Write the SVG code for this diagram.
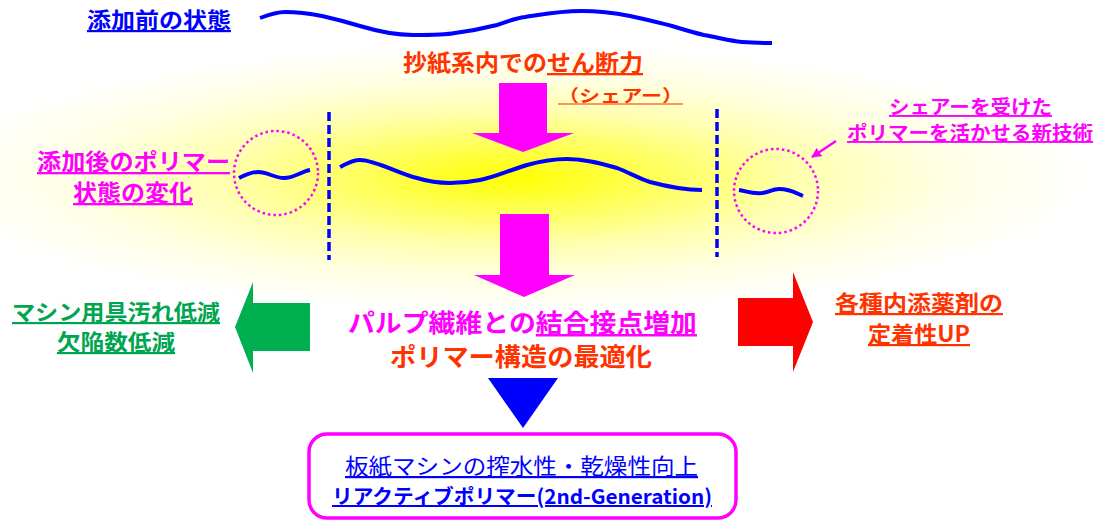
<svg xmlns="http://www.w3.org/2000/svg" width="1101" height="522" viewBox="0 0 1101 522">
<defs>
<radialGradient id="glow" cx="0.5" cy="0.5" r="0.5">
<stop offset="0" stop-color="#FFFF00"/>
<stop offset="0.25" stop-color="#FFFF5A"/>
<stop offset="0.5" stop-color="#FFFFB0"/>
<stop offset="0.75" stop-color="#FFFFE4"/>
<stop offset="1" stop-color="#FFFFFF"/>
</radialGradient>
<marker id="mh" viewBox="0 0 10 10" refX="9" refY="5" markerWidth="4" markerHeight="4" orient="auto" markerUnits="strokeWidth">
<path d="M0,0 L10,5 L0,10 z" fill="#FF00FF"/>
</marker>
<style>
text{font-family:"Noto Sans CJK JP","Noto Sans",sans-serif;font-weight:bold;}
.u{text-decoration:underline;}
.blue{fill:#0000FF;}
.org{fill:#FF3300;}
.mag{fill:#FF00FF;}
.grn{fill:#00A550;}
.poly{fill:none;stroke:#0000FF;stroke-width:4;stroke-linecap:butt;}
.dash{stroke:#0000FF;stroke-width:3.5;stroke-dasharray:9 4;}
.dot{fill:none;stroke:#FF00FF;stroke-width:2.5;stroke-dasharray:2.5 3;}
</style>
</defs>
<rect width="1101" height="522" fill="#FFFFFF"/>
<ellipse cx="510" cy="178" rx="580" ry="135" fill="url(#glow)"/>

<g id="before">
<text x="87" y="28" font-size="22" class="blue u" textLength="144" lengthAdjust="spacingAndGlyphs">添加前の状態</text>
<path class="poly" d="M260,18 C268,15 276,12 285,12 C300,12 312,14 322,16 C340,20 350,23 360,26 C380,32 395,35 413,35 C430,35 445,35 455,33 C470,31 485,28 497,25 C510,21 515,18 525,17 C545,14 560,11 581,11 C600,11 615,13 630,16 C645,19 660,23 672,26 C685,30 695,33 704,35 C720,38 730,41 742,42 C755,43 765,43 772,43"/>
</g>

<g id="shear">
<text x="403" y="71" font-size="23" class="org" textLength="240" lengthAdjust="spacingAndGlyphs">抄紙系内での<tspan class="u">せん断力</tspan></text>
<text x="558" y="102" font-size="17" class="org" textLength="125" lengthAdjust="spacingAndGlyphs">（シェアー）</text>
<line x1="558" y1="104" x2="683" y2="104" stroke="#FF7040" stroke-width="1.5"/>
</g>

<g id="connectors">
<polygon points="499,83 547,83 547,133 574,133 523,152 472,133 499,133" fill="#FF00FF"/>
<polygon points="500,214 549,214 549,275 575,275 524,297 474,275 500,275" fill="#FF00FF"/>
<polygon points="310,303 310,351 253,351 253,373 235,327 253,282 253,303" fill="#00B050"/>
<polygon points="738,298 793,298 793,272 813,322 793,372 793,346 738,346" fill="#FF0000"/>
<polygon points="488,378 558,378 523,428" fill="#0000FF"/>
<line x1="836" y1="141" x2="812" y2="157" stroke="#FF00FF" stroke-width="2.5" marker-end="url(#mh)"/>
<line class="dash" x1="329" y1="112" x2="329" y2="260"/>
<line class="dash" x1="717" y1="109" x2="717" y2="257"/>
</g>

<g id="polymer">
<path class="poly" d="M340,167 C348,163 352,160 360,160 C375,160 400,174 417,178 C430,182 440,183 450,183 C465,183 470,182 480,180 C495,177 510,170 527,165 C545,160 555,159 567,159 C585,159 600,163 617,168 C630,173 640,179 650,182 C665,186 685,190 702,190"/>
</g>

<g id="after-left">
<circle class="dot" cx="276" cy="173" r="42"/>
<path class="poly" stroke-width="3.5" d="M239,178 C247,174 252,172 258,172 C268,172 274,178 284,178 C294,178 300,172 310,170"/>
<text x="37" y="170" font-size="23" class="mag u" textLength="193" lengthAdjust="spacingAndGlyphs">添加後のポリマー</text>
<text x="73" y="201" font-size="23" class="mag u" textLength="120" lengthAdjust="spacingAndGlyphs">状態の変化</text>
</g>

<g id="after-right">
<circle class="dot" cx="776" cy="191" r="42"/>
<path class="poly" stroke-width="3.5" d="M739,190 C746,191 752,194 762,193 C770,192 772,189 779,189 C790,189 796,193 803,196"/>
<text x="889" y="114" font-size="19" class="mag u" textLength="163" lengthAdjust="spacingAndGlyphs">シェアーを受けた</text>
<text x="847" y="140" font-size="19" class="mag u" textLength="246" lengthAdjust="spacingAndGlyphs">ポリマーを活かせる新技術</text>
</g>

<g id="left-result">
<text x="12" y="320" font-size="22" class="grn u" textLength="208" lengthAdjust="spacingAndGlyphs">マシン用具汚れ低減</text>
<text x="57" y="350" font-size="22" class="grn u" textLength="118" lengthAdjust="spacingAndGlyphs">欠陥数低減</text>
</g>

<g id="right-result">
<text x="835" y="311" font-size="22" class="org u" textLength="168" lengthAdjust="spacingAndGlyphs">各種内添薬剤の</text>
<text x="868" y="342" font-size="22" class="org u" textLength="102" lengthAdjust="spacingAndGlyphs">定着性UP</text>
</g>

<g id="center">
<text x="348" y="332" font-size="25" class="mag" textLength="349" lengthAdjust="spacingAndGlyphs">パルプ繊維との<tspan class="u">結合接点増加</tspan></text>
<text x="390" y="366" font-size="25" class="org" textLength="262" lengthAdjust="spacingAndGlyphs">ポリマー構造の最適化</text>
</g>

<g id="result-box">
<rect x="309" y="434" width="427" height="84" rx="18" fill="#FFFFFF" stroke="#FF00FF" stroke-width="3.5"/>
<text x="345" y="474" font-size="22" class="blue u" style="font-weight:normal" textLength="353" lengthAdjust="spacingAndGlyphs">板紙マシンの搾水性・乾燥性向上</text>
<text x="332" y="504" font-size="20" class="blue u" textLength="380" lengthAdjust="spacingAndGlyphs">リアクティブポリマー(2nd-Generation)</text>
</g>
</svg>
